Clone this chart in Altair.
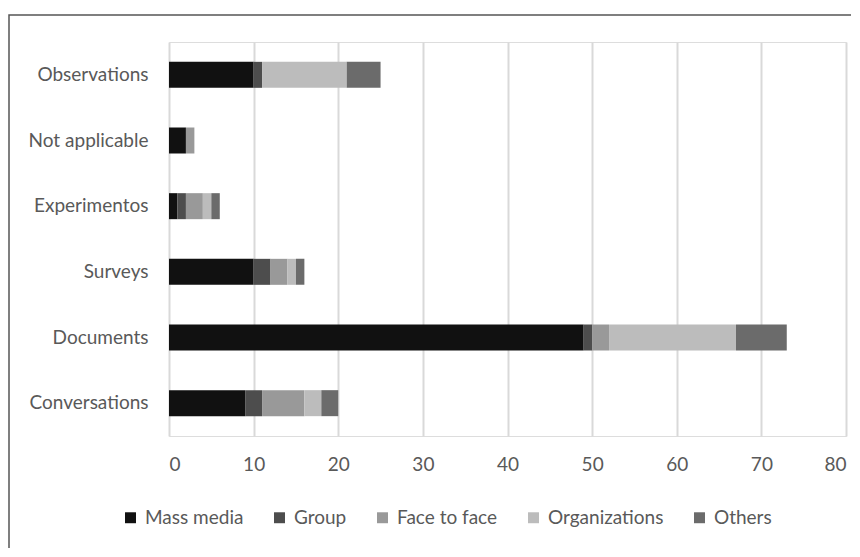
import altair as alt
import pandas as pd

categories = ["Observations", "Not applicable", "Experimentos", "Surveys", "Documents", "Conversations"]
series = ["Mass media", "Group", "Face to face", "Organizations", "Others"]
colors = ["#111111", "#4d4d4d", "#999999", "#bcbcbc", "#6b6b6b"]

mass_media    = [10, 2, 1, 10, 49, 9]
group         = [1, 0, 1, 2, 1, 2]
face_to_face  = [0, 1, 2, 2, 2, 5]
organizations = [10, 0, 1, 1, 15, 2]
others        = [4, 0, 1, 1, 6, 2]

values = [mass_media, group, face_to_face, organizations, others]
rows = []
for si, (s, vals) in enumerate(zip(series, values)):
    for c, v in zip(categories, vals):
        rows.append({"category": c, "series": s, "value": v, "order": si})
df = pd.DataFrame(rows)

font = "Lato"
label_color = "#595959"
fs = 19

bars = alt.Chart(df).mark_bar(size=26).encode(
    x=alt.X("value:Q", stack="zero",
            scale=alt.Scale(domain=[0, 80], nice=False),
            axis=alt.Axis(values=list(range(0, 81, 10)), title=None, domain=False, ticks=False,
                          grid=True, gridColor="#d9d9d9", gridWidth=2,
                          labelFont=font, labelFontSize=fs, labelColor=label_color,
                          labelPadding=19)),
    y=alt.Y("category:N", sort=categories, title=None,
            scale=alt.Scale(paddingInner=0.6, paddingOuter=0.3),
            axis=alt.Axis(domain=False, ticks=False, grid=False,
                          labelFont=font, labelFontSize=fs, labelColor=label_color,
                          labelPadding=21)),
    color=alt.Color("series:N", sort=series,
                    scale=alt.Scale(domain=series, range=colors),
                    legend=alt.Legend(title=None, orient="none", direction="horizontal",
                                      legendX=-48, legendY=466,
                                      symbolType="square", symbolSize=120,
                                      symbolStrokeWidth=0, columnPadding=26,
                                      labelFont=font, labelFontSize=fs, labelColor=label_color,
                                      labelOffset=5)),
    order=alt.Order("order:Q"),
)

border = alt.Chart(pd.DataFrame({"a": [0]})).mark_rect(
    fill=None, stroke="#555555", strokeWidth=1.5
).encode(
    x=alt.value(-160), x2=alt.value(720), y=alt.value(-27), y2=alt.value(600)
)

chart = alt.layer(border, bars).properties(
    width=677, height=394,
    autosize=alt.AutoSizeParams(type="none"),
    padding={"left": 161, "top": 34, "right": 5, "bottom": 112},
).configure_view(stroke=None).configure(background="white")

chart.save("out.html", embed_options={"renderer": "svg", "actions": False})
